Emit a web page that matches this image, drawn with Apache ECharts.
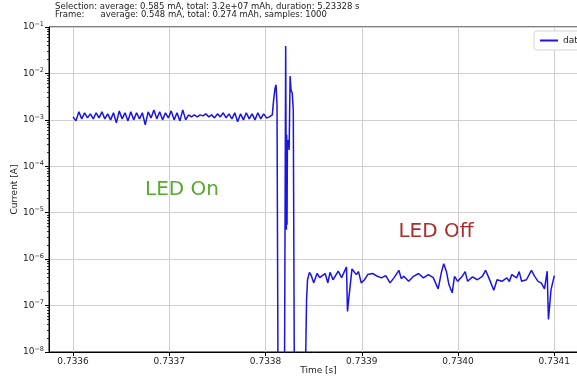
<!DOCTYPE html>
<html>
<head>
<meta charset="utf-8">
<script src="https://cdn.jsdelivr.net/npm/echarts@6/dist/echarts.min.js"></script>
<style>
html,body{margin:0;padding:0;background:#fff;}
#c{width:577px;height:376px;}
</style>
</head>
<body>
<div id="c"></div>
<script>
// ---- data (time in s, current in A) ----
const onTime = [
  0.733600,0.733603,0.733606,0.733609,0.733612,0.733615,0.733618,0.733621,0.733624,0.733627,
  0.733630,0.733633,0.733636,0.733639,0.733642,0.733645,0.733648,0.733651,0.733654,0.733657,
  0.733660,0.733663,0.733666,0.733669,0.733672,0.733675,0.733678,0.733681,0.733684,0.733687,
  0.733690,0.733693,0.733696,0.733699,0.733702,0.733705,0.733708,0.733711,0.733714,0.733717,
  0.733720,0.733723,0.733726,0.733729,0.733732,0.733735,0.733738,0.733741,0.733744,0.733747,
  0.733750,0.733753,0.733756,0.733759,0.733762,0.733765,0.733768,0.733771,0.733774,0.733777,
  0.733780,0.733783,0.733786,0.733789,0.733792,0.733795,0.733798,0.733801,0.733804,0.733807
];
const onCurrent = [
  1.16e-3,0.95e-3,1.49e-3,1.05e-3,1.42e-3,1.10e-3,1.35e-3,1.05e-3,1.42e-3,1.10e-3,
  1.49e-3,1.05e-3,1.35e-3,1.00e-3,1.42e-3,0.86e-3,1.56e-3,1.05e-3,1.42e-3,0.95e-3,
  1.49e-3,1.00e-3,1.42e-3,1.05e-3,1.42e-3,0.78e-3,1.49e-3,1.10e-3,1.64e-3,1.05e-3,
  1.49e-3,1.00e-3,1.42e-3,1.10e-3,1.56e-3,1.00e-3,1.42e-3,0.95e-3,1.64e-3,1.00e-3,
  1.28e-3,1.16e-3,1.28e-3,1.16e-3,1.28e-3,1.22e-3,1.35e-3,1.16e-3,1.28e-3,1.10e-3,
  1.35e-3,1.16e-3,1.42e-3,1.10e-3,1.35e-3,1.05e-3,1.42e-3,0.91e-3,1.35e-3,1.00e-3,
  1.42e-3,1.05e-3,1.35e-3,1.00e-3,1.42e-3,1.05e-3,1.35e-3,1.10e-3,1.16e-3,1.28e-3
];
const transitionTime = [
  0.7338084,0.7338099,0.7338109,0.7338119,0.7338130,0.7338196,0.7338209,0.7338213,
  0.7338216,0.7338220,0.7338223,0.7338227,0.7338237,0.7338245,0.7338255,0.7338265,
  0.7338277,0.7338288,0.7338300,0.7338410,0.7338426,0.7338436
];
const transitionCurrent = [
  2.69e-3,4.88e-3,5.66e-3,2.1e-3,1e-9,1e-9,3.9e-2,3.7e-4,
  4.3e-6,4.8e-4,5.5e-6,2.9e-4,3.7e-4,2.25e-4,8.8e-3,4.4e-3,
  3.8e-3,1.64e-3,1e-9,1e-9,1.35e-7,3.6e-7
];
const offTime = [
  0.7338456,0.7338476,0.7338500,0.7338535,0.7338563,0.7338589,0.7338619,0.7338647,0.7338670,0.7338701,
  0.7338755,0.7338790,0.7338841,0.7338851,0.7338867,0.7338898,0.7338943,0.7338966,0.7338994,0.7339028,
  0.7339061,0.7339112,0.7339163,0.7339204,0.7339249,0.7339293,0.7339334,0.7339385,0.7339410,0.7339436,
  0.7339487,0.7339538,0.7339589,0.7339640,0.7339691,0.7339742,0.7339793,0.7339827,0.7339851,0.7339878,
  0.7339905,0.7339939,0.7339963,0.7339997,0.7340048,0.7340074,0.7340099,0.7340150,0.7340201,0.7340252,
  0.7340286,0.7340320,0.7340371,0.7340405,0.7340456,0.7340507,0.7340533,0.7340558,0.7340609,0.7340635,
  0.7340660,0.7340711,0.7340762,0.7340796,0.7340831,0.7340864,0.7340898,0.7340926,0.7340939,0.7340966,
  0.7341000
];
const offCurrent = [
  5.2e-7,4.4e-7,3.08e-7,4.9e-7,4.0e-7,4.4e-7,4.9e-7,3.1e-7,5.2e-7,3.6e-7,
  5.5e-7,4.0e-7,6.8e-7,7.5e-8,1.58e-7,6.15e-7,4.65e-7,5.4e-7,3.08e-7,3.6e-7,
  4.65e-7,4.9e-7,4.27e-7,3.95e-7,4.4e-7,3.08e-7,3.95e-7,5.75e-7,3.8e-7,4.27e-7,
  3.33e-7,4.27e-7,4.9e-7,3.95e-7,4.65e-7,4.0e-7,2.29e-7,5.2e-7,8.0e-7,5.5e-7,
  2.83e-7,1.88e-7,4.27e-7,3.33e-7,4.4e-7,5.4e-7,3.33e-7,4.14e-7,3.6e-7,4.27e-7,
  5.75e-7,3.95e-7,2.13e-7,3.6e-7,3.33e-7,3.95e-7,3.3e-7,4.65e-7,3.95e-7,5.4e-7,
  3.33e-7,3.6e-7,5.75e-7,4.27e-7,3.33e-7,3.08e-7,2.29e-7,5.5e-7,5.0e-8,2.2e-7,
  4.4e-7
];
const headerLines = [
  'Selection: average: 0.585 mA, total: 3.2e+07 mAh, duration: 5.23328 s',
  'Frame:      average: 0.548 mA, total: 0.274 mAh, samples: 1000'
];
const seriesName = 'data';

// ---- build ----
const times = onTime.concat(transitionTime, offTime);
const currents = onCurrent.concat(transitionCurrent, offCurrent);
const points = times.map((t, i) => [t, currents[i]]);

const minorVals = [];
for (let e = -8; e < -1; e++) {
  for (let m = 2; m <= 9; m++) minorVals.push(m * Math.pow(10, e));
}

const FONT = 'DejaVu Sans';
const chart = echarts.init(document.getElementById('c'), null, {renderer: 'canvas'});
chart.setOption({
  animation: false,
  backgroundColor: '#fff',
  textStyle: {fontFamily: FONT},
  grid: {left: 49, right: -11, top: 27, bottom: 24, containLabel: false, outerBoundsMode: 'none',
    show: true, borderColor: '#000', borderWidth: 1, backgroundColor: 'transparent'},
  legend: {
    data: [seriesName], left: 534, top: 31, orient: 'vertical', icon: 'rect',
    padding: [5, 6], itemWidth: 18, itemHeight: 2, itemGap: 4,
    backgroundColor: 'rgba(255,255,255,0.85)', borderColor: '#d5d5d5', borderWidth: 1, borderRadius: 3,
    textStyle: {fontFamily: FONT, fontSize: 9, color: '#222'}
  },
  xAxis: {
    type: 'value', min: 0.733575, max: 0.734135, splitNumber: 5,
    axisLine: {show: true, lineStyle: {color: '#000', width: 1}},
    axisTick: {show: true, length: 4, lineStyle: {color: '#000'}},
    axisLabel: {show: true, showMinLabel: false, showMaxLabel: false, fontSize: 9, color: '#222', margin: 5, fontFamily: FONT,
      formatter: v => v.toFixed(4)},
    splitLine: {show: true, lineStyle: {color: '#cfcfcf', width: 1}},
    name: 'Time [s]', nameLocation: 'middle', nameGap: 14, nameMoveOverlap: false,
    nameTextStyle: {fontSize: 9, color: '#222', fontFamily: FONT}
  },
  yAxis: [{
    type: 'log', logBase: 10, min: 1e-8, max: 1e-1,
    axisLine: {show: true, lineStyle: {color: '#000', width: 1}},
    axisTick: {show: true, length: 4, lineStyle: {color: '#000'}},
    axisLabel: {show: true, fontSize: 9, color: '#222', margin: 5, fontFamily: FONT,
      formatter: v => '{b|10}{s|\u2212' + (-Math.round(Math.log10(v))) + '}',
      rich: {b: {fontSize: 9, color: '#222', fontFamily: FONT}, s: {fontSize: 6.5, color: '#222', fontFamily: FONT, padding: [0, 0, 6, 0]}}
    },
    splitLine: {show: true, lineStyle: {color: '#cfcfcf', width: 1}},
    name: 'Current [A]', nameLocation: 'middle', nameGap: 30, nameMoveOverlap: false,
    nameTextStyle: {fontSize: 9, color: '#222', fontFamily: FONT}
  }, {
    type: 'log', logBase: 10, min: 1e-8, max: 1e-1, position: 'left',
    axisLine: {show: false},
    axisTick: {show: true, length: 2, customValues: minorVals, lineStyle: {color: '#000', width: 0.8}},
    axisLabel: {show: false},
    splitLine: {show: false}
  }],
  graphic: [
    {type: 'text', left: 55, top: 2, style: {text: headerLines[0], font: '8.5px "DejaVu Sans"', fill: '#222'}},
    {type: 'text', left: 55, top: 10, style: {text: headerLines[1], font: '8.5px "DejaVu Sans"', fill: '#222'}},
    {type: 'text', x: 182, y: 190, style: {text: 'LED On', font: '20px "DejaVu Sans"', fill: '#58a92f', align: 'center', verticalAlign: 'middle'}},
    {type: 'text', x: 436, y: 232, style: {text: 'LED Off', font: '20px "DejaVu Sans"', fill: '#ad2b2b', align: 'center', verticalAlign: 'middle'}}
  ],
  series: [{
    name: seriesName, type: 'line', data: points, showSymbol: false, symbol: 'none',
    lineStyle: {color: '#1a14e6', width: 1.5}, itemStyle: {color: '#1a14e6'},
    clip: true, z: 3
  }]
});
</script>
</body>
</html>
